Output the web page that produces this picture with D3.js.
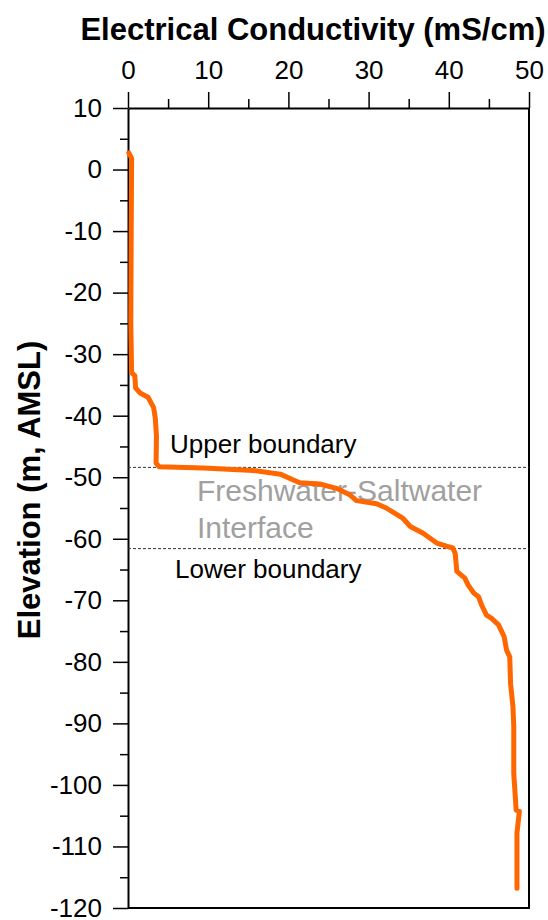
<!DOCTYPE html>
<meta charset="utf-8">
<script src="https://d3js.org/d3.v7.min.js"></script>
<style>
  body { margin: 0; background: #fff; }
  text { font-family: "Liberation Sans", Arial, sans-serif; }
</style>
<div id="my_dataviz"></div>

<script>

// conductivity profile
const ec = [0.1, 0.45, 0.4, 0.35, 0.45, 0.85, 0.95, 1.5, 2.5, 3.2, 3.4, 3.55, 3.5, 3.9,
    9.4, 15.6, 19.0, 20.2, 21.4, 23.9, 26.0, 27.7, 28.5, 31.0, 32.2, 34.3, 35.2, 36.8,
    38.5, 39.7, 40.5, 40.8, 41.0, 42.0, 42.4, 43.1, 43.7, 44.1, 44.7, 45.3, 46.2, 46.9,
    47.2, 47.6, 47.7, 48.0, 48.1, 48.1, 48.4, 48.8, 48.5, 48.5];
const elev = [2.7, 1.8, -10, -25, -33, -33.5, -35.5, -36.3, -37, -38.7, -40.4, -43.3, -47.7, -48.3,
    -48.5, -48.9, -49.5, -50.2, -50.9, -51.1, -51.8, -52.9, -53.8, -54.3, -55.0, -56.7, -58.0, -59.1,
    -60.7, -61.2, -61.5, -62.4, -65.3, -66.4, -67.5, -68.8, -69.4, -70.8, -72.4, -72.9, -74.0, -75.9,
    -78.1, -79.2, -83.5, -87.3, -90.5, -98.1, -104.1, -104.3, -107.8, -116.8];

const xTicks = [0, 10, 20, 30, 40, 50];
const xMinor = [5, 15, 25, 35, 45];
const yTicks = [10, 0, -10, -20, -30, -40, -50, -60, -70, -80, -90, -100, -110, -120];
const yMinor = [5, -5, -15, -25, -35, -45, -55, -65, -75, -85, -95, -105, -115];

const boundaries = [-48.4, -61.6];
const boundaryLabels = ["Upper boundary", "Lower boundary"];

const width = 548, height = 920;

const svg = d3.select("#my_dataviz")
    .append("svg")
    .attr("width", width)
    .attr("height", height);

const x = d3.scaleLinear().domain([0, 50]).range([128, 529]);
const y = d3.scaleLinear().domain([10, -120]).range([108, 908]);

// plain hyphen, like the original
const fmt = (d) => String(d);

// right + bottom frame
svg.append("path")
    .attr("d", `M${x(0)},${y(-120)}H${x(50)}V${y(10)}`)
    .attr("fill", "none")
    .attr("stroke", "#000")
    .attr("stroke-width", 2);

// top axis
svg.append("g")
    .attr("transform", `translate(0,${y(10)})`)
    .call(d3.axisTop(x).tickValues(xTicks).tickFormat(fmt).tickSize(16).tickPadding(13).tickSizeOuter(0));
svg.append("g")
    .attr("transform", `translate(0,${y(10)})`)
    .call(d3.axisTop(x).tickValues(xMinor).tickSize(9).tickFormat("").tickSizeOuter(0))
    .select(".domain").remove();

// left axis
svg.append("g")
    .attr("transform", `translate(${x(0)},0)`)
    .call(d3.axisLeft(y).tickValues(yTicks).tickFormat(fmt).tickSize(15).tickPadding(11).tickSizeOuter(0));
svg.append("g")
    .attr("transform", `translate(${x(0)},0)`)
    .call(d3.axisLeft(y).tickValues(yMinor).tickSize(8).tickFormat("").tickSizeOuter(0))
    .select(".domain").remove();

svg.selectAll(".tick line").attr("stroke", "#000").attr("stroke-width", 1.5);
svg.selectAll(".domain").attr("stroke", "#000").attr("stroke-width", 2);
svg.selectAll(".tick text")
    .style("font-family", "'Liberation Sans', Arial, sans-serif")
    .style("font-size", "26px")
    .attr("fill", "#000");

// axis titles
svg.append("text")
    .attr("x", 313)
    .attr("y", 40)
    .attr("text-anchor", "middle")
    .style("font-size", "31px")
    .style("font-weight", "bold")
    .text("Electrical Conductivity (mS/cm)");

svg.append("text")
    .attr("transform", "translate(40,490) rotate(-90)")
    .attr("text-anchor", "middle")
    .style("font-size", "31px")
    .style("font-weight", "bold")
    .text("Elevation (m, AMSL)");

// boundary lines
svg.selectAll("myBounds")
    .data(boundaries)
    .enter()
    .append("line")
    .attr("x1", x(0))
    .attr("x2", x(50))
    .attr("y1", (d) => y(d))
    .attr("y2", (d) => y(d))
    .attr("stroke", "#333")
    .attr("stroke-width", 1)
    .attr("stroke-dasharray", "3,2");

// interface label
svg.append("text")
    .attr("x", 197)
    .attr("y", 501)
    .style("font-size", "30px")
    .attr("fill", "#a0a0a0")
    .text("Freshwater-Saltwater");
svg.append("text")
    .attr("x", 197)
    .attr("y", 538)
    .style("font-size", "30px")
    .attr("fill", "#a0a0a0")
    .text("Interface");

// the profile
svg.append("path")
    .datum(ec.map((v, i) => [v, elev[i]]))
    .attr("d", d3.line()
        .x((d) => x(d[0]))
        .y((d) => y(d[1]))
    )
    .attr("fill", "none")
    .attr("stroke", "#ff6600")
    .attr("stroke-width", 5)
    .attr("stroke-linejoin", "round")
    .attr("stroke-linecap", "round");

// boundary labels
svg.selectAll("myBoundLabels")
    .data(boundaryLabels)
    .enter()
    .append("text")
    .attr("x", (d, i) => i === 0 ? 170 : 175)
    .attr("y", (d, i) => i === 0 ? 453 : 578)
    .style("font-size", "26px")
    .attr("fill", "#000")
    .text((d) => d);

</script>
